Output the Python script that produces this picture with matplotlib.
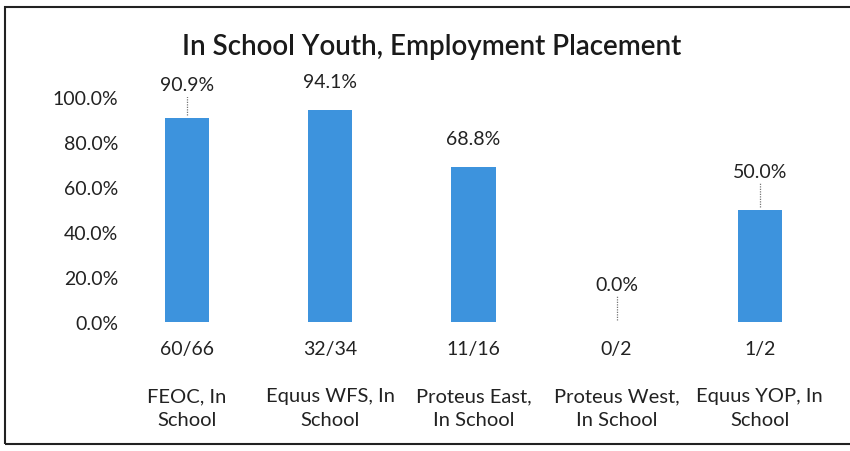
import matplotlib.pyplot as plt
from matplotlib.patches import Rectangle
from matplotlib.ticker import PercentFormatter

plt.rcParams['font.family'] = ['Lato', 'DejaVu Sans']

programs = ['FEOC, In\nSchool', 'Equus WFS, In\nSchool', 'Proteus East,\nIn School',
            'Proteus West,\nIn School', 'Equus YOP, In\nSchool']
placed = [60, 32, 11, 0, 1]
enrolled = [66, 34, 16, 2, 2]
rates = [p / e for p, e in zip(placed, enrolled)]
# which data labels have a leader line in the original
leaders = [True, False, False, True, True]

fig = plt.figure(figsize=(8.5, 4.52), dpi=100)
ax = fig.add_axes([0.136, 0.285, 0.842, 0.498])

x = range(len(programs))
ax.bar(x, rates, width=0.31, color='#3d93dd')

label_off = [0.11, 0.09, 0.09, 0.13, 0.13]
for i, r in enumerate(rates):
    ax.text(i, r + label_off[i], f'{r * 100:.1f}%', ha='center', va='bottom', fontsize=14, color='#222222')
    if leaders[i]:
        ax.plot([i, i], [r + 0.01, r + label_off[i] - 0.01], color='#777777', lw=0.9, ls=(0, (1, 1)))
    ax.text(i, -0.08, f'{placed[i]}/{enrolled[i]}', ha='center', va='top', fontsize=14, color='#222222')
    ax.text(i, -0.29, programs[i], ha='center', va='top', fontsize=14.5, color='#222222', linespacing=1.5)

ax.set_ylim(0, 1.0)
ax.set_xlim(-0.5, len(programs) - 0.5)
ax.set_yticks([0, 0.2, 0.4, 0.6, 0.8, 1.0])
ax.yaxis.set_major_formatter(PercentFormatter(1.0, decimals=1))
ax.tick_params(axis='y', length=0, labelsize=14, labelcolor='#222222', pad=-2)
ax.set_xticks([])
for s in ax.spines.values():
    s.set_visible(False)

fig.text(0.508, 0.895, 'In School Youth, Employment Placement', ha='center', va='center',
         fontsize=20, fontweight='semibold', color='#1a1a1a')

fig.patches.append(Rectangle((0.006, 0.015), 1.2, 0.967, transform=fig.transFigure,
                             fill=False, edgecolor='#222222', lw=1.5))

fig.savefig('out.png', dpi=100, facecolor='white')
